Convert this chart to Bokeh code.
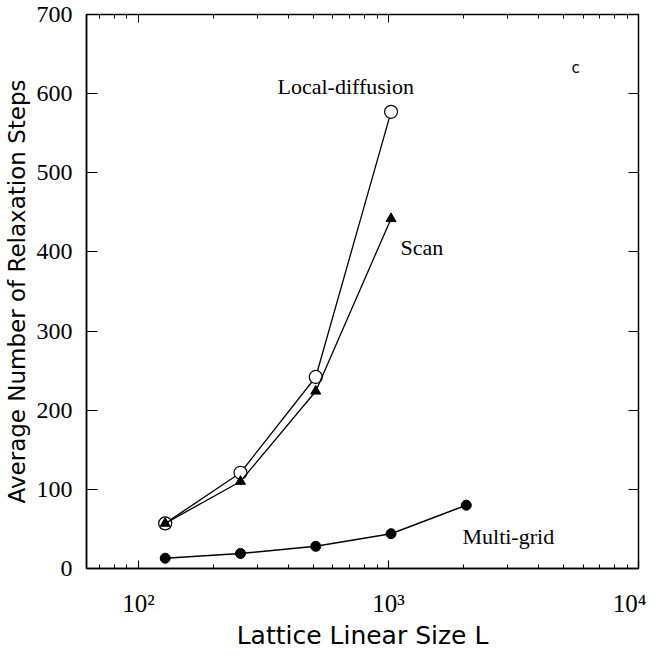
from bokeh.plotting import figure
from bokeh.models import LinearAxis, LogAxis, Range1d, Label, FixedTicker, LogTicker
from bokeh.embed import file_html
from bokeh.resources import INLINE

# data
L_sizes = [128, 256, 512, 1024]
L_multi = [128, 256, 512, 1024, 2048]
local_diffusion = [57, 121, 242, 577]
scan = [57, 110, 224, 442]
multi_grid = [13, 19, 28, 44, 80]
y_ticks = [0, 100, 200, 300, 400, 500, 600, 700]
x_tick_labels = {100: "10²", 1000: "10³", 10000: "10⁴"}

TICK_FONT = "Liberation Sans Narrow"
LABEL_FONT = "DejaVu Sans"
SERIF = "Liberation Serif"

p = figure(x_axis_type="log", x_range=Range1d(62, 10000), y_range=Range1d(0, 700),
           frame_width=552, frame_height=554, output_backend="svg", toolbar_location=None,
           min_border_left=83, min_border_right=8, min_border_top=14, min_border_bottom=80,
           background_fill_color="white", border_fill_color="white")
p.outline_line_color = "black"
p.outline_line_width = 1.5
p.grid.visible = False

xa = p.xaxis[0]
xa.ticker = LogTicker(num_minor_ticks=10)
xa.major_label_overrides = x_tick_labels
xa.major_tick_in = 8
xa.major_tick_out = 0
xa.minor_tick_in = 4
xa.minor_tick_out = 0
xa.axis_line_width = 1.5
xa.major_tick_line_width = 1.2
xa.major_label_text_font = TICK_FONT
xa.major_label_text_font_size = "25px"
xa.major_label_text_color = "black"
xa.major_label_standoff = 21
xa.axis_label = "Lattice Linear Size L"
xa.axis_label_text_font = LABEL_FONT
xa.axis_label_text_font_size = "25px"
xa.axis_label_text_font_style = "normal"
xa.axis_label_text_color = "black"
xa.axis_label_standoff = 1

ya = p.yaxis[0]
ya.ticker = FixedTicker(ticks=y_ticks)
ya.major_tick_in = 11
ya.major_tick_out = 0
ya.minor_tick_in = 0
ya.minor_tick_out = 0
ya.axis_line_width = 1.5
ya.major_tick_line_width = 1.2
ya.major_label_text_font = TICK_FONT
ya.major_label_text_font_size = "24px"
ya.major_label_text_color = "black"
ya.major_label_standoff = 14
ya.axis_label = "Average Number of Relaxation Steps"
ya.axis_label_text_font = LABEL_FONT
ya.axis_label_text_font_size = "23px"
ya.axis_label_text_font_style = "normal"
ya.axis_label_text_color = "black"
ya.axis_label_standoff = 4

top = LogAxis(ticker=LogTicker(num_minor_ticks=10), major_tick_in=8, major_tick_out=0,
              minor_tick_in=4, minor_tick_out=0, major_label_text_font_size="1px",
              major_label_text_alpha=0, major_label_standoff=0, axis_line_alpha=0)
p.add_layout(top, "above")
right = LinearAxis(ticker=FixedTicker(ticks=y_ticks), major_tick_in=10, major_tick_out=0,
                   minor_tick_in=0, minor_tick_out=0, major_label_text_font_size="1px",
                   major_label_text_alpha=0, major_label_standoff=0, axis_line_alpha=0)
p.add_layout(right, "right")

# series
p.line(L_sizes, local_diffusion, line_color="black", line_width=1.3)
p.scatter(L_sizes, local_diffusion, marker="circle", size=13, fill_color="white",
          line_color="black", line_width=1.2)
p.line(L_sizes, scan, line_color="black", line_width=1.3)
p.scatter(L_sizes, scan, marker="triangle", size=10, fill_color="black", line_color="black")
p.line(L_multi, multi_grid, line_color="black", line_width=1.5)
p.scatter(L_multi, multi_grid, marker="circle", size=10, fill_color="black", line_color="black")

for txt, x, y in [("Local-diffusion", 360, 609), ("Scan", 1117, 406), ("Multi-grid", 1977, 40)]:
    p.add_layout(Label(x=x, y=y, text=txt, text_font=SERIF, text_font_size="22px",
                       text_baseline="alphabetic", text_align="left", text_color="black"))
p.add_layout(Label(x=5600, y=633, text="c", text_font="DejaVu Sans", text_font_size="15px",
                   text_baseline="middle", text_align="center", text_color="black"))

open("out.html", "w").write(file_html(p, INLINE))
